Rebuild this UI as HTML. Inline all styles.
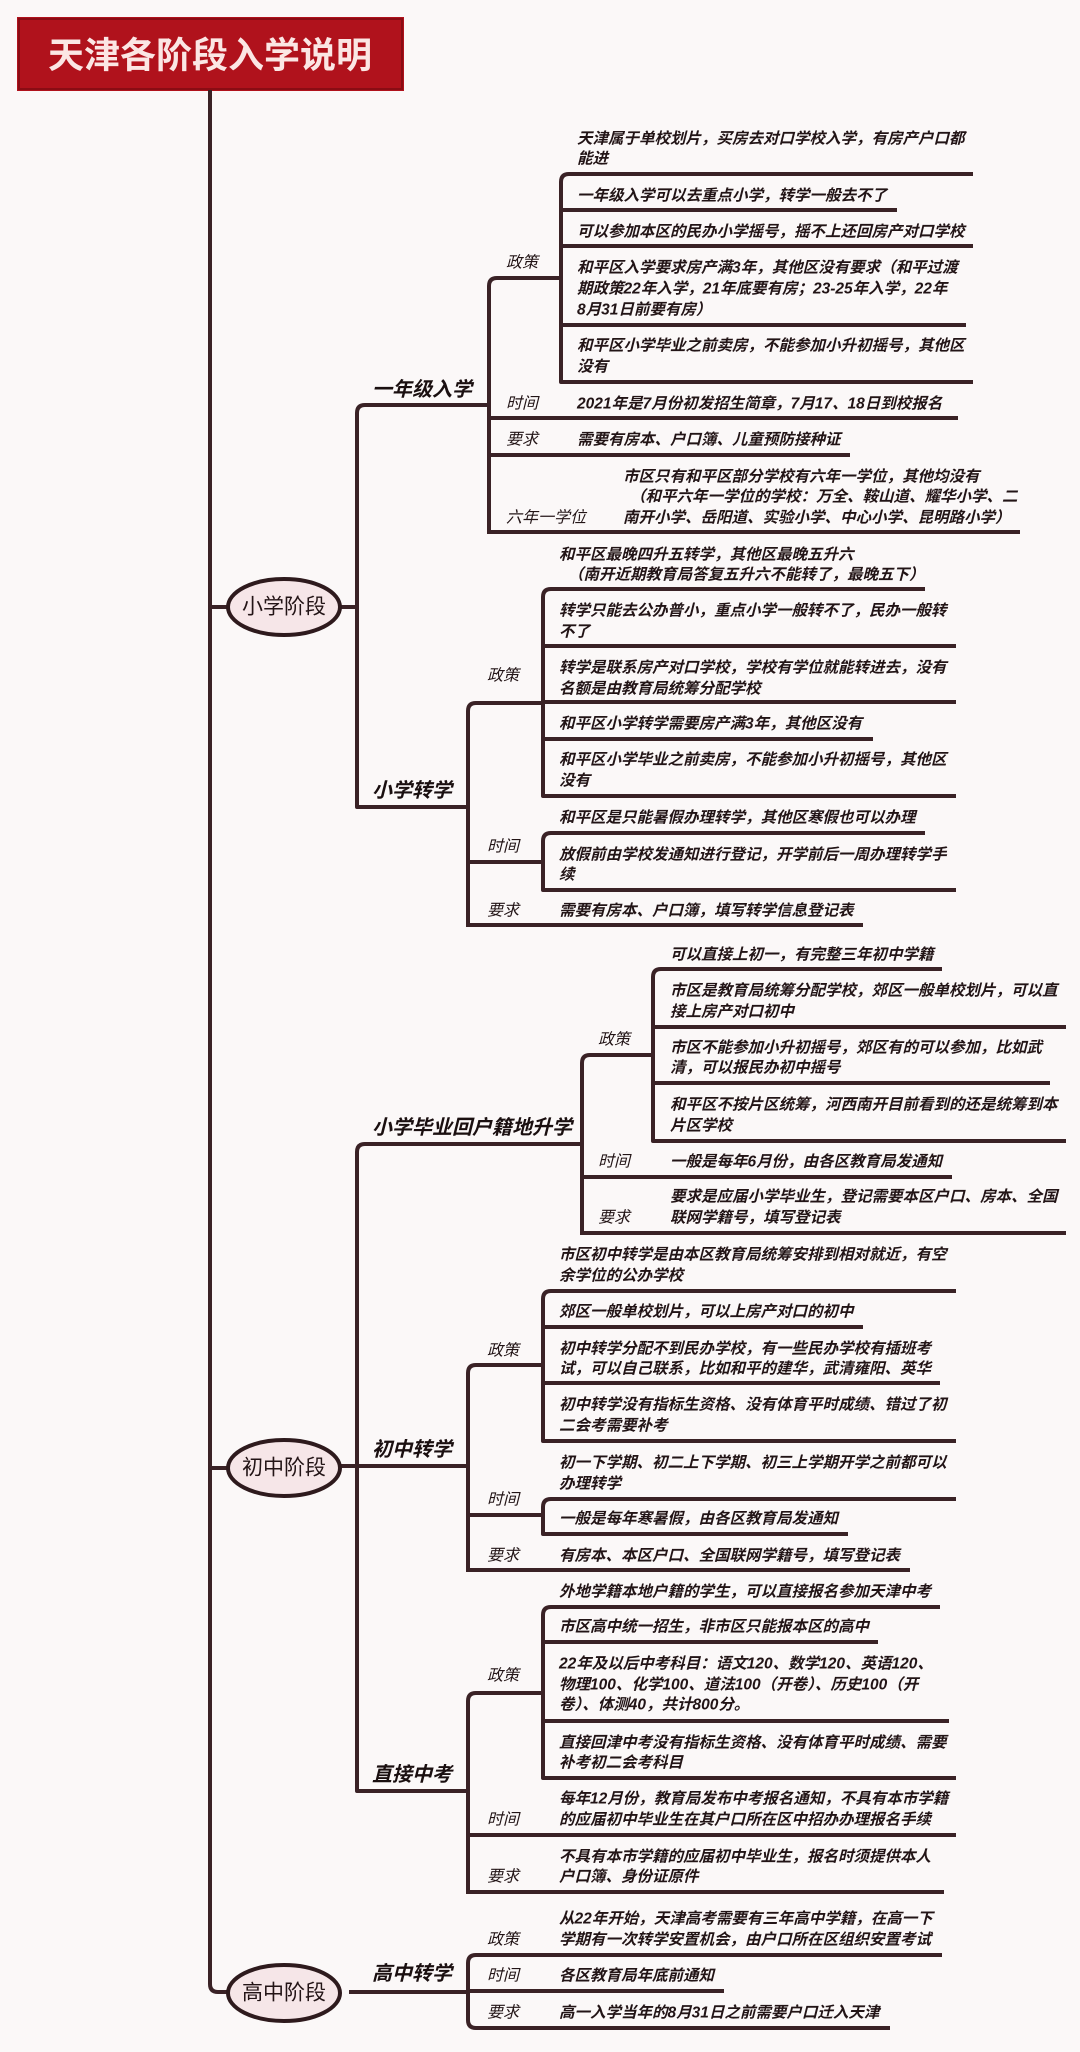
<!DOCTYPE html>
<html><head><meta charset="utf-8"><style>
html,body{margin:0;padding:0;background:#fbf8f8;}
svg{display:block;}
text{font-family:"Liberation Sans","Noto Sans CJK SC",sans-serif;}
.t{font-size:15.5px;font-style:italic;font-weight:bold;fill:#221416;dominant-baseline:central;}
.l{font-size:16px;font-style:italic;fill:#221416;dominant-baseline:central;}
.h{font-size:20px;font-style:italic;font-weight:bold;fill:#1a0f10;}
.o{font-size:21px;fill:#231416;dominant-baseline:central;text-anchor:middle;}
</style></head><body>
<svg width="1080" height="2052" viewBox="0 0 1080 2052" xmlns="http://www.w3.org/2000/svg">
<rect x="0" y="0" width="1080" height="2052" fill="#fbf8f8"/>
<rect x="17" y="17" width="387" height="74" fill="#b0121c"/>
<rect x="19" y="19" width="383" height="70" fill="none" stroke="#8a0c14" stroke-width="2"/>
<text x="210" y="55" font-size="36" font-weight="bold" fill="#fbe6e4" text-anchor="middle" dominant-baseline="central" style="font-family:'Liberation Sans','Noto Sans CJK SC',sans-serif">天津各阶段入学说明</text>

<g fill="none" stroke="#3a2226" stroke-width="4" stroke-linecap="square" stroke-linejoin="round">
<path d="M210 92 V1984 Q210 1992 218 1992 H228"/>
<path d="M210 607 H228"/><path d="M210 1468 H228"/>
<path d="M341 607 H356"/>
<path d="M489 405 H365 Q357 405 357 413 V807 H468"/>
<path d="M582 1144 H365 Q357 1144 357 1152 V1791 H468"/>
<path d="M341 1466 H468"/>
<path d="M351 1992 H468"/>

<path d="M489 532 V286 Q489 278 497 278 H561"/>
<path d="M489 418 H956"/><path d="M489 455 H848"/><path d="M489 532 H1018"/>
<path d="M971 174 H569 Q561 174 561 182 V382 H971"/>
<path d="M561 210 H895"/><path d="M561 246 H971"/><path d="M561 325 H964"/>

<path d="M468 925 V711 Q468 703 476 703 H543"/>
<path d="M468 862 H543"/><path d="M468 925 H861"/>
<path d="M923 589 H551 Q543 589 543 597 V796 H954"/>
<path d="M543 646 H954"/><path d="M543 702 H954"/><path d="M543 739 H871"/>
<path d="M923 833 H551 Q543 833 543 841 V890 H954"/>

<path d="M582 1233 V1063 Q582 1055 590 1055 H653"/>
<path d="M582 1177 H950"/><path d="M582 1233 H1064"/>
<path d="M940 969 H661 Q653 969 653 977 V1141 H1064"/>
<path d="M653 1027 H1064"/><path d="M653 1083 H1048"/>

<path d="M468 1570 V1373 Q468 1365 476 1365 H543"/>
<path d="M468 1515 H543"/><path d="M468 1570 H908"/>
<path d="M954 1291 H551 Q543 1291 543 1299 V1441 H954"/>
<path d="M543 1327 H861"/><path d="M543 1383 H938"/>
<path d="M954 1499 H551 Q543 1499 543 1507 V1534 H846"/>

<path d="M468 1892 V1701 Q468 1693 476 1693 H543"/>
<path d="M468 1835 H954"/><path d="M468 1892 H942"/>
<path d="M938 1607 H551 Q543 1607 543 1615 V1778 H954"/>
<path d="M543 1642 H876"/><path d="M543 1721 H947"/>

<path d="M940 1955 H476 Q468 1955 468 1963 V2020 Q468 2028 476 2028 H888"/>
<path d="M468 1991 H722"/>
</g>

<g fill="#f6e6e8" stroke="#2e1a1d" stroke-width="4">
<ellipse cx="284" cy="607" rx="56" ry="28"/>
<ellipse cx="284" cy="1468" rx="56" ry="28"/>
<ellipse cx="284" cy="1993" rx="56" ry="28"/>
</g>
<text class="o" x="284" y="607">小学阶段</text>
<text class="o" x="284" y="1468">初中阶段</text>
<text class="o" x="284" y="1993">高中阶段</text>

<text class="h" x="372" y="396">一年级入学</text>
<text class="h" x="372" y="797">小学转学</text>
<text class="h" x="372" y="1134">小学毕业回户籍地升学</text>
<text class="h" x="372" y="1456">初中转学</text>
<text class="h" x="372" y="1781">直接中考</text>
<text class="h" x="372" y="1980">高中转学</text>

<text class="l" x="506" y="263">政策</text>
<text class="l" x="506" y="404">时间</text>
<text class="l" x="506" y="440">要求</text>
<text class="l" x="506" y="518">六年一学位</text>
<text class="t" x="577" y="139">天津属于单校划片，买房去对口学校入学，有房产户口都</text>
<text class="t" x="577" y="159">能进</text>
<text class="t" x="577" y="196">一年级入学可以去重点小学，转学一般去不了</text>
<text class="t" x="577" y="232">可以参加本区的民办小学摇号，摇不上还回房产对口学校</text>
<text class="t" x="577" y="268">和平区入学要求房产满3年，其他区没有要求（和平过渡</text>
<text class="t" x="577" y="289">期政策22年入学，21年底要有房；23-25年入学，22年</text>
<text class="t" x="577" y="310">8月31日前要有房）</text>
<text class="t" x="577" y="346">和平区小学毕业之前卖房，不能参加小升初摇号，其他区</text>
<text class="t" x="577" y="367">没有</text>
<text class="t" x="577" y="404">2021年是7月份初发招生简章，7月17、18日到校报名</text>
<text class="t" x="577" y="440">需要有房本、户口簿、儿童预防接种证</text>
<text class="t" x="623" y="477">市区只有和平区部分学校有六年一学位，其他均没有</text>
<text class="t" x="630" y="497">（和平六年一学位的学校：万全、鞍山道、耀华小学、二</text>
<text class="t" x="623" y="518">南开小学、岳阳道、实验小学、中心小学、昆明路小学）</text>

<text class="l" x="487" y="676">政策</text>
<text class="l" x="487" y="847">时间</text>
<text class="l" x="487" y="911">要求</text>
<text class="t" x="559" y="555">和平区最晚四升五转学，其他区最晚五升六</text>
<text class="t" x="568" y="575">（南开近期教育局答复五升六不能转了，最晚五下）</text>
<text class="t" x="559" y="611">转学只能去公办普小，重点小学一般转不了，民办一般转</text>
<text class="t" x="559" y="632">不了</text>
<text class="t" x="559" y="668">转学是联系房产对口学校，学校有学位就能转进去，没有</text>
<text class="t" x="559" y="689">名额是由教育局统筹分配学校</text>
<text class="t" x="559" y="724">和平区小学转学需要房产满3年，其他区没有</text>
<text class="t" x="559" y="760">和平区小学毕业之前卖房，不能参加小升初摇号，其他区</text>
<text class="t" x="559" y="781">没有</text>
<text class="t" x="559" y="818">和平区是只能暑假办理转学，其他区寒假也可以办理</text>
<text class="t" x="559" y="855">放假前由学校发通知进行登记，开学前后一周办理转学手</text>
<text class="t" x="559" y="875">续</text>
<text class="t" x="559" y="911">需要有房本、户口簿，填写转学信息登记表</text>

<text class="l" x="598" y="1040">政策</text>
<text class="l" x="598" y="1162">时间</text>
<text class="l" x="598" y="1218">要求</text>
<text class="t" x="670" y="955">可以直接上初一，有完整三年初中学籍</text>
<text class="t" x="670" y="991">市区是教育局统筹分配学校，郊区一般单校划片，可以直</text>
<text class="t" x="670" y="1012">接上房产对口初中</text>
<text class="t" x="670" y="1048">市区不能参加小升初摇号，郊区有的可以参加，比如武</text>
<text class="t" x="670" y="1068">清，可以报民办初中摇号</text>
<text class="t" x="670" y="1105">和平区不按片区统筹，河西南开目前看到的还是统筹到本</text>
<text class="t" x="670" y="1126">片区学校</text>
<text class="t" x="670" y="1162">一般是每年6月份，由各区教育局发通知</text>
<text class="t" x="670" y="1197">要求是应届小学毕业生，登记需要本区户口、房本、全国</text>
<text class="t" x="670" y="1218">联网学籍号，填写登记表</text>

<text class="l" x="487" y="1351">政策</text>
<text class="l" x="487" y="1500">时间</text>
<text class="l" x="487" y="1556">要求</text>
<text class="t" x="559" y="1255">市区初中转学是由本区教育局统筹安排到相对就近，有空</text>
<text class="t" x="559" y="1276">余学位的公办学校</text>
<text class="t" x="559" y="1312">郊区一般单校划片，可以上房产对口的初中</text>
<text class="t" x="559" y="1349">初中转学分配不到民办学校，有一些民办学校有插班考</text>
<text class="t" x="559" y="1369">试，可以自己联系，比如和平的建华，武清雍阳、英华</text>
<text class="t" x="559" y="1405">初中转学没有指标生资格、没有体育平时成绩、错过了初</text>
<text class="t" x="559" y="1426">二会考需要补考</text>
<text class="t" x="559" y="1463">初一下学期、初二上下学期、初三上学期开学之前都可以</text>
<text class="t" x="559" y="1484">办理转学</text>
<text class="t" x="559" y="1519">一般是每年寒暑假，由各区教育局发通知</text>
<text class="t" x="559" y="1556">有房本、本区户口、全国联网学籍号，填写登记表</text>

<text class="l" x="487" y="1676">政策</text>
<text class="l" x="487" y="1820">时间</text>
<text class="l" x="487" y="1877">要求</text>
<text class="t" x="559" y="1592">外地学籍本地户籍的学生，可以直接报名参加天津中考</text>
<text class="t" x="559" y="1627">市区高中统一招生，非市区只能报本区的高中</text>
<text class="t" x="559" y="1664">22年及以后中考科目：语文120、数学120、英语120、</text>
<text class="t" x="559" y="1685">物理100、化学100、道法100（开卷）、历史100（开</text>
<text class="t" x="559" y="1705">卷）、体测40，共计800分。</text>
<text class="t" x="559" y="1743">直接回津中考没有指标生资格、没有体育平时成绩、需要</text>
<text class="t" x="559" y="1763">补考初二会考科目</text>
<text class="t" x="559" y="1799">每年12月份，教育局发布中考报名通知，不具有本市学籍</text>
<text class="t" x="559" y="1820">的应届初中毕业生在其户口所在区中招办办理报名手续</text>
<text class="t" x="559" y="1857">不具有本市学籍的应届初中毕业生，报名时须提供本人</text>
<text class="t" x="559" y="1877">户口簿、身份证原件</text>

<text class="l" x="487" y="1940">政策</text>
<text class="l" x="487" y="1976">时间</text>
<text class="l" x="487" y="2013">要求</text>
<text class="t" x="559" y="1919">从22年开始，天津高考需要有三年高中学籍，在高一下</text>
<text class="t" x="559" y="1940">学期有一次转学安置机会，由户口所在区组织安置考试</text>
<text class="t" x="559" y="1976">各区教育局年底前通知</text>
<text class="t" x="559" y="2013">高一入学当年的8月31日之前需要户口迁入天津</text>
</svg>
</body></html>
